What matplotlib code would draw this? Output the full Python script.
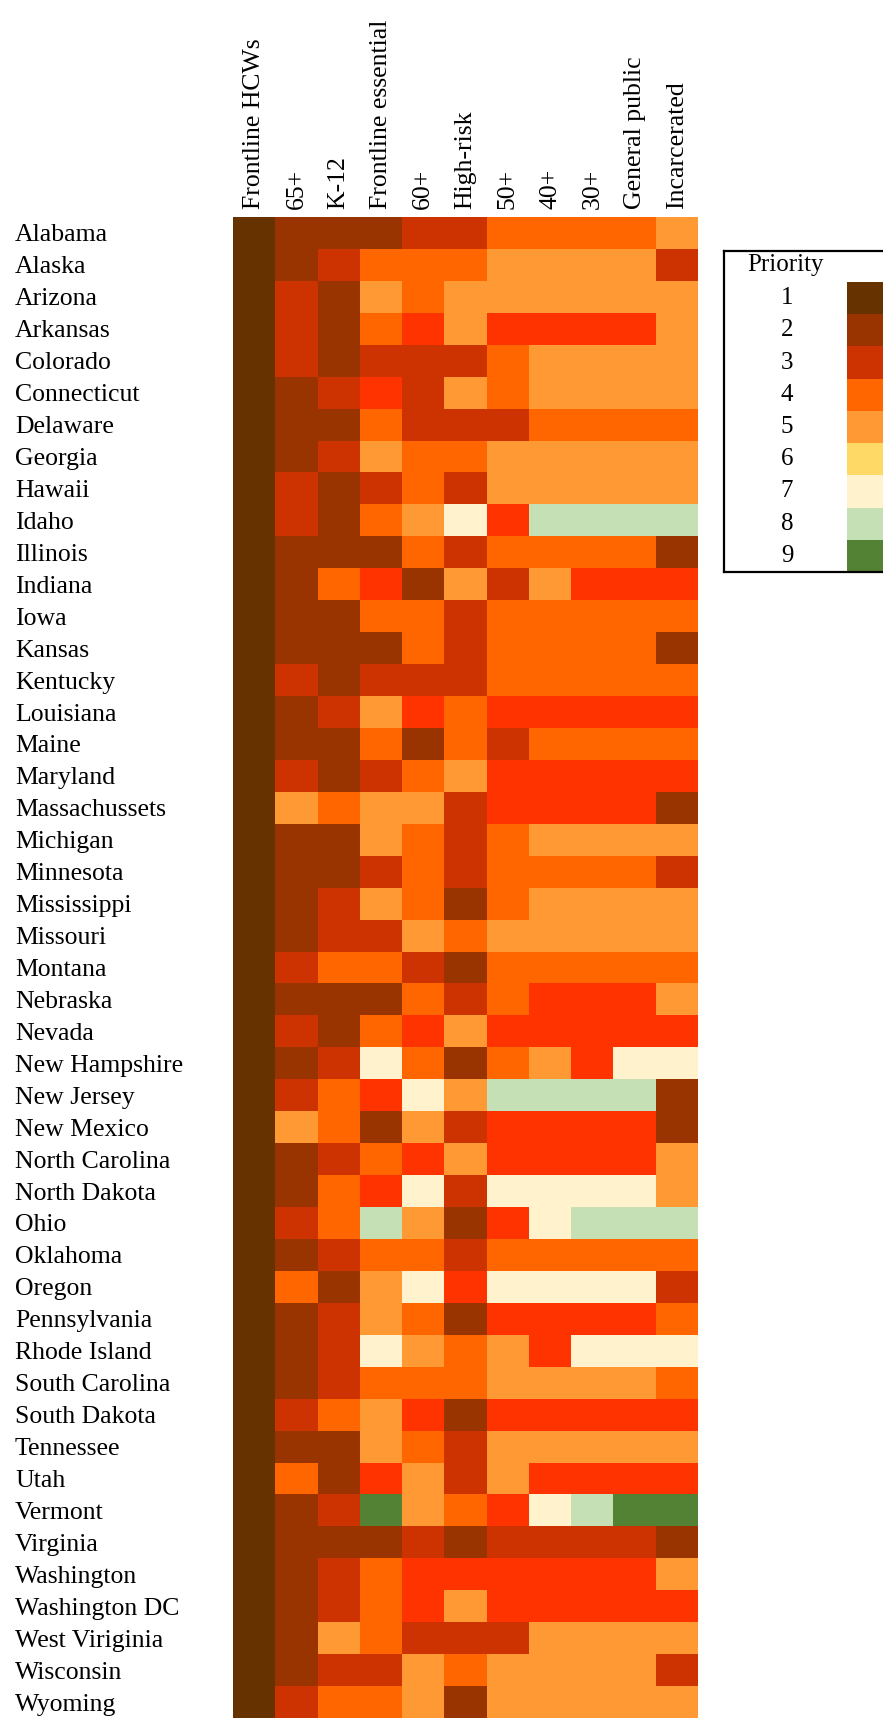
import numpy as np
import matplotlib
matplotlib.use("Agg")
import matplotlib.pyplot as plt
from matplotlib.colors import ListedColormap, BoundaryNorm
from matplotlib.patches import Rectangle

plt.rcParams['font.family'] = ['Liberation Serif', 'DejaVu Serif']

groups = ["Frontline HCWs", "65+", "K-12", "Frontline essential", "60+",
          "High-risk", "50+", "40+", "30+", "General public", "Incarcerated"]

states = ["Alabama", "Alaska", "Arizona", "Arkansas", "Colorado", "Connecticut",
          "Delaware", "Georgia", "Hawaii", "Idaho", "Illinois", "Indiana", "Iowa",
          "Kansas", "Kentucky", "Louisiana", "Maine", "Maryland", "Massachussets",
          "Michigan", "Minnesota", "Mississippi", "Missouri", "Montana", "Nebraska",
          "Nevada", "New Hampshire", "New Jersey", "New Mexico", "North Carolina",
          "North Dakota", "Ohio", "Oklahoma", "Oregon", "Pennsylvania",
          "Rhode Island", "South Carolina", "South Dakota", "Tennessee", "Utah",
          "Vermont", "Virginia", "Washington", "Washington DC", "West Viriginia",
          "Wisconsin", "Wyoming"]

# cell codes as drawn (code 6 shows as the bright red in the grid)
priority = [
    [1, 2, 2, 2, 3, 3, 4, 4, 4, 4, 5],
    [1, 2, 3, 4, 4, 4, 5, 5, 5, 5, 3],
    [1, 3, 2, 5, 4, 5, 5, 5, 5, 5, 5],
    [1, 3, 2, 4, 6, 5, 6, 6, 6, 6, 5],
    [1, 3, 2, 3, 3, 3, 4, 5, 5, 5, 5],
    [1, 2, 3, 6, 3, 5, 4, 5, 5, 5, 5],
    [1, 2, 2, 4, 3, 3, 3, 4, 4, 4, 4],
    [1, 2, 3, 5, 4, 4, 5, 5, 5, 5, 5],
    [1, 3, 2, 3, 4, 3, 5, 5, 5, 5, 5],
    [1, 3, 2, 4, 5, 7, 6, 8, 8, 8, 8],
    [1, 2, 2, 2, 4, 3, 4, 4, 4, 4, 2],
    [1, 2, 4, 6, 2, 5, 3, 5, 6, 6, 6],
    [1, 2, 2, 4, 4, 3, 4, 4, 4, 4, 4],
    [1, 2, 2, 2, 4, 3, 4, 4, 4, 4, 2],
    [1, 3, 2, 3, 3, 3, 4, 4, 4, 4, 4],
    [1, 2, 3, 5, 6, 4, 6, 6, 6, 6, 6],
    [1, 2, 2, 4, 2, 4, 3, 4, 4, 4, 4],
    [1, 3, 2, 3, 4, 5, 6, 6, 6, 6, 6],
    [1, 5, 4, 5, 5, 3, 6, 6, 6, 6, 2],
    [1, 2, 2, 5, 4, 3, 4, 5, 5, 5, 5],
    [1, 2, 2, 3, 4, 3, 4, 4, 4, 4, 3],
    [1, 2, 3, 5, 4, 2, 4, 5, 5, 5, 5],
    [1, 2, 3, 3, 5, 4, 5, 5, 5, 5, 5],
    [1, 3, 4, 4, 3, 2, 4, 4, 4, 4, 4],
    [1, 2, 2, 2, 4, 3, 4, 6, 6, 6, 5],
    [1, 3, 2, 4, 6, 5, 6, 6, 6, 6, 6],
    [1, 2, 3, 7, 4, 2, 4, 5, 6, 7, 7],
    [1, 3, 4, 6, 7, 5, 8, 8, 8, 8, 2],
    [1, 5, 4, 2, 5, 3, 6, 6, 6, 6, 2],
    [1, 2, 3, 4, 6, 5, 6, 6, 6, 6, 5],
    [1, 2, 4, 6, 7, 3, 7, 7, 7, 7, 5],
    [1, 3, 4, 8, 5, 2, 6, 7, 8, 8, 8],
    [1, 2, 3, 4, 4, 3, 4, 4, 4, 4, 4],
    [1, 4, 2, 5, 7, 6, 7, 7, 7, 7, 3],
    [1, 2, 3, 5, 4, 2, 6, 6, 6, 6, 4],
    [1, 2, 3, 7, 5, 4, 5, 6, 7, 7, 7],
    [1, 2, 3, 4, 4, 4, 5, 5, 5, 5, 4],
    [1, 3, 4, 5, 6, 2, 6, 6, 6, 6, 6],
    [1, 2, 2, 5, 4, 3, 5, 5, 5, 5, 5],
    [1, 4, 2, 6, 5, 3, 5, 6, 6, 6, 6],
    [1, 2, 3, 9, 5, 4, 6, 7, 8, 9, 9],
    [1, 2, 2, 2, 3, 2, 3, 3, 3, 3, 2],
    [1, 2, 3, 4, 6, 6, 6, 6, 6, 6, 5],
    [1, 2, 3, 4, 6, 5, 6, 6, 6, 6, 6],
    [1, 2, 5, 4, 3, 3, 3, 5, 5, 5, 5],
    [1, 2, 3, 3, 5, 4, 5, 5, 5, 5, 3],
    [1, 3, 4, 4, 5, 2, 5, 5, 5, 5, 5],
]

legend_levels = [1, 2, 3, 4, 5, 6, 7, 8, 9]
legend_colors = ["#663300", "#993300", "#CC3300", "#FF6600", "#FF9933",
                 "#FFD966", "#FFF2CC", "#C5E0B4", "#548235"]
cell_colors = ["#663300", "#993300", "#CC3300", "#FF6600", "#FF9933",
               "#FF3300", "#FFF2CC", "#C5E0B4", "#548235"]

W, H = 883, 1718
fig = plt.figure(figsize=(W / 100, H / 100), dpi=100)

# heatmap axes, pixel box: x 233..698, y 217..1718
ax = fig.add_axes([233 / W, 0, (698 - 233) / W, (1718 - 217) / H])
data = np.array(priority)
cmap = ListedColormap(cell_colors)
norm = BoundaryNorm(np.arange(0.5, 10.5, 1), cmap.N)
ax.pcolormesh(data, cmap=cmap, norm=norm)
ax.set_xlim(0, len(groups))
ax.set_ylim(len(states), 0)
for s in ax.spines.values():
    s.set_visible(False)

ax.xaxis.tick_top()
ax.set_xticks(np.arange(len(groups)) + 0.5)
ax.set_xticklabels(groups, rotation=90, fontsize=18.5)
ax.set_yticks(np.arange(len(states)) + 0.5)
ax.set_yticklabels(states, fontsize=18.5, ha='left')
ax.tick_params(axis='x', length=0, pad=6)
ax.tick_params(axis='y', length=0, pad=157)

# legend box
lax = fig.add_axes([724 / W, 1 - 572 / H, (W - 724) / W, (572 - 251) / H])
lax.set_xlim(724, W)
lax.set_ylim(572, 251)
lax.set_xticks([])
lax.set_yticks([])
for side in ['left', 'top', 'bottom']:
    lax.spines[side].set_linewidth(1.6)
lax.spines['right'].set_visible(False)
lax.text(785, 265, "Priority", ha='center', va='center', fontsize=18)
sw_top = 282
sw_h = (572 - 282) / len(legend_levels)
for i, (lev, col) in enumerate(zip(legend_levels, legend_colors)):
    y0 = sw_top + i * sw_h
    lax.add_patch(Rectangle((847, y0), W - 847, sw_h, color=col, lw=0))
    lax.text(787, y0 + sw_h / 2, str(lev), ha='center', va='center', fontsize=18)

fig.savefig("out.png", dpi=100)
